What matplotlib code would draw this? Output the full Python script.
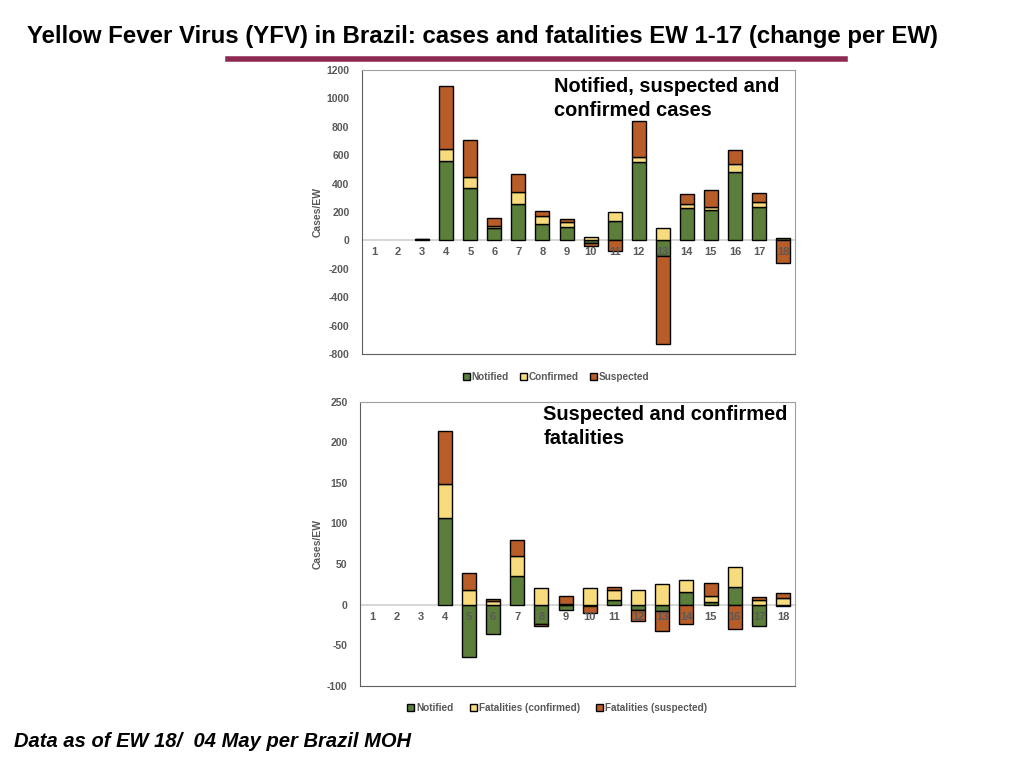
import matplotlib
matplotlib.use("Agg")
import matplotlib.pyplot as plt
import numpy as np

plt.rcParams['font.family'] = ['Liberation Sans', 'DejaVu Sans']
plt.rcParams['axes.unicode_minus'] = False

weeks = list(range(1, 19))

# cases per EW (change)
cases_notified = [0, 0, 10, 559, 369, 85, 254, 115, 94, -21, 134, 549, -110, 225, 211, 479, 237, 20]
cases_confirmed = [0, 0, 0, 87, 75, 18, 84, 59, 33, 26, 68, 38, 85, 29, 26, 56, 31, 0]
cases_suspected = [0, 0, 3, 439, 260, 52, 129, 35, 26, -16, -75, 256, -616, 70, 115, 99, 63, -162]

# fatalities per EW (change)
fat_notified = [0, 0, 0, 107, -65, -36, 35.5, -23.5, -6, -2, 6, -6, -8, 15, 3.5, 22, -26, -2]
fat_confirmed = [0, 0, 0, 41, 18, 4.5, 24, 20, 1, 21, 12, 18, 25, 15, 7, 24.5, 5.5, 8.5]
fat_suspected = [0, 0, 0, 66, 21, 2.5, 20, -3, 10, -8, 4, -14, -24.5, -23.5, 16, -29.5, 4, 6]

green = '#5B7F3A'
yellow = '#F7DB7C'
orange = '#B85D27'
gray_txt = '#595959'


def stacked(ax, series, colors, labels):
    x = np.array(weeks)
    pos = np.zeros(len(weeks))
    neg = np.zeros(len(weeks))
    for vals, c, lab in zip(series, colors, labels):
        v = np.array(vals, dtype=float)
        base = np.where(v >= 0, pos, neg)
        m = v != 0
        ax.bar(x[m], v[m], bottom=base[m], width=0.58, color=c, edgecolor='black',
               linewidth=1.0, label=lab, zorder=3)
        pos = pos + np.where(v > 0, v, 0)
        neg = neg + np.where(v < 0, v, 0)


def style(ax, ymin, ymax, step, label_off):
    ax.set_xlim(0.5, 18.5)
    ax.set_ylim(ymin, ymax)
    ax.set_yticks(np.arange(ymin, ymax + step, step))
    ax.set_xticks([])
    ax.axhline(0, color='#d0d0d0', lw=1.2, zorder=2)
    for s in ['left', 'bottom']:
        ax.spines[s].set_color('#606060')
    for s in ['top', 'right']:
        ax.spines[s].set_color('#a0a0a0')
    ax.tick_params(axis='y', length=0, labelsize=7.5, labelcolor=gray_txt, pad=9)
    for t in ax.get_yticklabels():
        t.set_fontweight('bold')
    ax.set_ylabel('Cases/EW', fontsize=7.5, fontweight='bold', color=gray_txt, labelpad=3)
    for w in weeks:
        ax.text(w, label_off, str(w), ha='center', va='center', fontsize=8,
                fontweight='bold', color=gray_txt, zorder=4)


fig = plt.figure(figsize=(10.24, 7.68), dpi=100)

fig.text(0.026, 0.953, 'Yellow Fever Virus (YFV) in Brazil: cases and fatalities EW 1-17 (change per EW)',
         fontsize=17.3, fontweight='bold', va='center', ha='left')
fig.add_artist(plt.Line2D([0.223, 0.825], [0.923, 0.923], color='#8E2A52', lw=4))

ax1 = fig.add_axes([0.3535, 0.539, 0.423, 0.370])
stacked(ax1, [cases_notified, cases_confirmed, cases_suspected],
        [green, yellow, orange], ['Notified', 'Confirmed', 'Suspected'])
style(ax1, -800, 1200, 200, -80)
ax1.text(0.443, 0.975, 'Notified, suspected and\nconfirmed cases', transform=ax1.transAxes,
         fontsize=14.4, fontweight='bold', va='top', ha='left', linespacing=1.35)
ax1.legend(loc='upper center', bbox_to_anchor=(0.448, -0.03), ncol=3, frameon=False,
           handlelength=0.7, handleheight=0.7, handletextpad=0.2,
           columnspacing=1.1, labelcolor=gray_txt,
           prop={'weight': 'bold', 'size': 7.2})

ax2 = fig.add_axes([0.3516, 0.107, 0.425, 0.370])
stacked(ax2, [fat_notified, fat_confirmed, fat_suspected],
        [green, yellow, orange], ['Notified', 'Fatalities (confirmed)', 'Fatalities (suspected)'])
style(ax2, -100, 250, 50, -15)
ax2.text(0.421, 0.99, 'Suspected and confirmed\nfatalities', transform=ax2.transAxes,
         fontsize=14.4, fontweight='bold', va='top', ha='left', linespacing=1.35)
ax2.legend(loc='upper center', bbox_to_anchor=(0.453, -0.03), ncol=3, frameon=False,
           handlelength=0.7, handleheight=0.7, handletextpad=0.2,
           columnspacing=1.6, labelcolor=gray_txt,
           prop={'weight': 'bold', 'size': 7.2})

fig.text(0.014, 0.034, 'Data as of EW 18/  04 May per Brazil MOH', fontsize=14.5,
         fontweight='bold', fontstyle='italic', va='center', ha='left')

fig.savefig('out.png', dpi=100)
